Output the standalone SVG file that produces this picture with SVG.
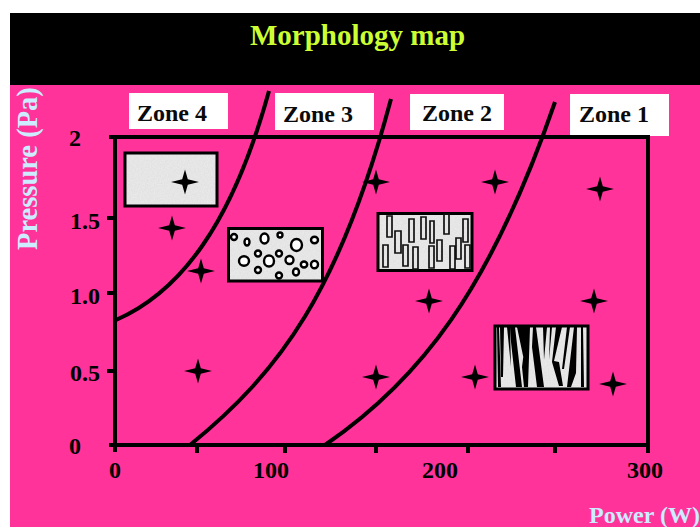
<svg xmlns="http://www.w3.org/2000/svg" width="700" height="527" viewBox="0 0 700 527">
<style>
text{font-family:"Liberation Serif","Times New Roman",serif;font-weight:bold}
.z{font-size:24px;fill:#0a0a0a}
.t{font-size:24px;fill:#000}
.a{font-size:28.500px;fill:#ccecff}
.l{fill:none;stroke:#000;stroke-width:4}
.c{fill:none;stroke:#000;stroke-width:4}
.b{fill:#e9e9e9;filter:url(#n)}
.f{fill:none;stroke:#000;stroke-width:3}
.o{fill:#fff;stroke:#000;stroke-width:2.400}
.r{fill:none;stroke:#111;stroke-width:1.700}
</style>
<defs>
<filter id="n" x="0" y="0" width="100%" height="100%">
<feTurbulence type="fractalNoise" baseFrequency="0.7" numOctaves="2" seed="3" result="t"/>
<feColorMatrix in="t" type="matrix" values="0 0 0 0 0.6  0 0 0 0 0.6  0 0 0 0 0.6  0.55 0 0 0 -0.14" result="g"/>
<feComposite in="g" in2="SourceGraphic" operator="atop"/>
</filter>
<path id="s" d="M0-12.500L2.800-2.800L14 0L2.800 2.800L0 12.500L-2.800 2.800L-14 0L-2.800-2.800Z" fill="#000"/>
</defs>
<rect width="700" height="527" fill="#fff"/>
<rect x="10" y="85" width="690" height="442" fill="#ff3399"/>
<rect x="10" y="13" width="690" height="72" fill="#000"/>
<text x="250" y="45" fill="#ccff33" style="font-size:29px">Morphology map</text>
<g id="zone-labels">
<g id="zone4"><rect x="129" y="93" width="99" height="36" fill="#fff"/><text class="z" x="137" y="121">Zone 4</text></g>
<g id="zone3"><rect x="275" y="93" width="99" height="37" fill="#fff"/><text class="z" x="283" y="122">Zone 3</text></g>
<g id="zone2"><rect x="410" y="94" width="94" height="36" fill="#fff"/><text class="z" x="422" y="121">Zone 2</text></g>
<g id="zone1"><rect x="570" y="94" width="99" height="42" fill="#fff"/><text class="z" x="579" y="122">Zone 1</text></g>
</g>
<g id="axes">
<path class="l" d="M109 137H648V445H109"/>
<path class="l" d="M115 137V452"/>
<path class="l" d="M107 218H115M107 293H115M107 371H115"/>
<path class="l" d="M197 445V453M285 445V453M376 445V453M468 445V453M555 445V453M648 445V453"/>
</g>
<g id="tick-labels">
<text class="t" x="69" y="146">2</text><text class="t" x="70" y="229">1.5</text><text class="t" x="70" y="304">1.0</text><text class="t" x="70" y="381">0.5</text><text class="t" x="69" y="454">0</text>
<text class="t" x="115" y="478" text-anchor="middle">0</text><text class="t" x="271" y="478" text-anchor="middle">100</text><text class="t" x="440" y="478" text-anchor="middle">200</text><text class="t" x="645" y="478" text-anchor="middle">300</text>
</g>
<text class="a" transform="translate(37 250) rotate(-90)">Pressure (Pa)</text>
<text class="a" x="589" y="523" style="font-size:24px" textLength="111" lengthAdjust="spacingAndGlyphs">Power (W)</text>
<g id="connectors">
<path class="c" d="M116 320C180 292 232 225 269 91"/>
<path class="c" d="M190 445C280 372 340 290 391 99"/>
<path class="c" d="M325 445C420 380 490 290 555 102"/>
</g>
<g id="micro1"><rect class="b" x="125" y="153" width="92" height="53"/><rect class="f" x="125" y="153" width="92" height="53"/></g>
<g id="micro2"><rect class="b" x="228.500" y="228.500" width="94" height="52.500"/><rect class="f" x="228.500" y="228.500" width="94" height="52.500"/>
<ellipse class="o" cx="234" cy="237" rx="3" ry="3"/><ellipse class="o" cx="247" cy="242" rx="2.500" ry="3.500"/><ellipse class="o" cx="264.500" cy="238.500" rx="4" ry="5"/><ellipse class="o" cx="280" cy="235" rx="2.500" ry="2.500"/><ellipse class="o" cx="296.500" cy="245" rx="5.500" ry="6"/><ellipse class="o" cx="314.500" cy="240" rx="3.500" ry="3.200"/><ellipse class="o" cx="244" cy="261" rx="5" ry="4.800"/><ellipse class="o" cx="258" cy="253.500" rx="3" ry="3"/><ellipse class="o" cx="269" cy="261" rx="5" ry="5.500"/><ellipse class="o" cx="279" cy="253.500" rx="3" ry="3"/><ellipse class="o" cx="289.500" cy="260" rx="4" ry="4"/><ellipse class="o" cx="304" cy="264.500" rx="3.200" ry="3"/><ellipse class="o" cx="314.500" cy="264.500" rx="3.500" ry="3.800"/><ellipse class="o" cx="258" cy="270" rx="3" ry="3"/><ellipse class="o" cx="279" cy="275.500" rx="3" ry="3"/><ellipse class="o" cx="296" cy="272" rx="3" ry="3.500"/></g>
<g id="micro3"><rect class="b" x="378" y="213.500" width="94" height="57"/><rect class="f" x="378" y="213.500" width="94" height="57"/>
<path class="r" d="M387 216h5v21h-5zM395 231h6v22h-6zM409 219h5v23h-5zM421 217h5v22h-5zM430 221h4v22h-4zM444 214h5v20h-5zM463 219h5v23h-5zM383 245h5v22h-5zM403 245h5v21h-5zM413 247h5v22h-5zM429 246h5v22h-5zM437 240h5v21h-5zM450 246h5v23h-5zM456 238h5v21h-5zM465 245h5v23h-5z"/></g>
<g id="micro4"><rect class="b" x="495" y="326" width="93" height="63"/>
<path fill="#000" d="M497 327h2l2 60h-3zM500 327h4l-1 50h-2zM507 327h3l1 40zM510 327h5l7 60h-6l-5-45zM517 327h10l1 40-2 3zM527 327h3l-2 60h-4l-2-20zM533 327h3l8 60h-7l-5-40zM543 327h4l-3 33zM550 327h2l-3 33zM556 327h6l-8 34 5 1 4 24h-4l-7-24zM567 327h3l-6 42-2 0zM574 327h3l-1 46-5 14h-4zM581 327h2l1 60h-3z"/>
<rect class="f" x="495" y="326" width="93" height="63"/></g>
<g id="points">
<use href="#s" x="185" y="182"/><use href="#s" x="172" y="228"/><use href="#s" x="201" y="271"/><use href="#s" x="198" y="371"/><use href="#s" x="376" y="182"/><use href="#s" x="495" y="182"/><use href="#s" x="600" y="189"/><use href="#s" x="429" y="301"/><use href="#s" x="594" y="301"/><use href="#s" x="376" y="377"/><use href="#s" x="475" y="377"/><use href="#s" x="613" y="384"/>
</g>
</svg>
